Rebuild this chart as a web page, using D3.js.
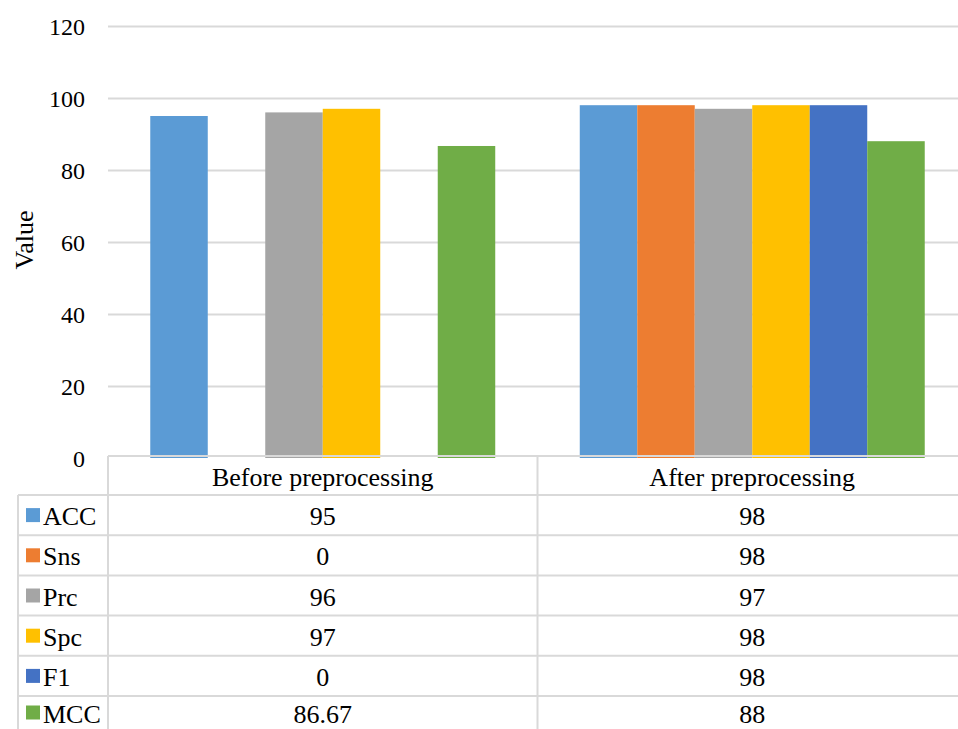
<!DOCTYPE html>
<html>
<head>
<meta charset="utf-8">
<script src="https://cdn.jsdelivr.net/npm/d3@7/dist/d3.min.js"></script>
<style>
  html, body { margin: 0; padding: 0; background: #fff; }
  svg { display: block; }
</style>
</head>
<body>
<svg id="chart" width="958" height="729"></svg>
<script>
// Metrics per preprocessing stage
const categories = ["Before preprocessing", "After preprocessing"];
const seriesNames = ["ACC", "Sns", "Prc", "Spc", "F1", "MCC"];
const seriesColors = ["#5b9bd5", "#ed7d31", "#a5a5a5", "#ffc000", "#4472c4", "#70ad47"];
const beforeValues = [95, 0, 96, 97, 0, 86.67];
const afterValues = [98, 98, 97, 98, 98, 88];
const tableLabels = [["95", "98"], ["0", "98"], ["96", "97"], ["97", "98"], ["0", "98"], ["86.67", "88"]];
const yTicks = [0, 20, 40, 60, 80, 100, 120];

const valuesByCategory = [beforeValues, afterValues];

const svg = d3.select("#chart");
const W = 958, H = 729;
const FONT = "Liberation Serif";
const plot = { left: 108, right: 967, top: 26, bottom: 458 };
const gridColor = "#d9d9d9";
const tickSize = 24;
const tableSize = 26;

const y = d3.scaleLinear().domain([0, 120]).range([plot.bottom, plot.top]);
const x0 = d3.scaleBand().domain(categories).range([plot.left, plot.right]);
const x1 = d3.scaleBand().domain(seriesNames).range([0, x0.bandwidth()]).paddingOuter(0.735);
const color = d3.scaleOrdinal().domain(seriesNames).range(seriesColors);

// Gridlines and value ticks
const yAxis = d3.axisLeft(y).tickValues(yTicks).tickSize(-(W - plot.left)).tickFormat(d3.format("d"));
const gAxis = svg.append("g").attr("transform", `translate(${plot.left},0)`).call(yAxis);
gAxis.attr("font-family", FONT).attr("font-size", tickSize);
gAxis.select(".domain").remove();
gAxis.selectAll(".tick line").attr("stroke", gridColor).attr("stroke-width", 2)
  .filter(d => d === 0).remove();
gAxis.selectAll(".tick text")
  .attr("x", -23).attr("dy", "0.35em")
  .attr("fill", "#000");

// Axis title
svg.append("text")
  .attr("transform", "translate(33,240) rotate(-90)")
  .attr("text-anchor", "middle")
  .attr("font-family", FONT).attr("font-size", 26)
  .text("Value");

// Bars
const groups = svg.append("g").selectAll("g")
  .data(categories)
  .join("g")
  .attr("transform", d => `translate(${x0(d)},0)`);

groups.selectAll("rect")
  .data((c, ci) => seriesNames.map((s, si) => ({ s, v: valuesByCategory[ci][si] })))
  .join("rect")
  .attr("x", d => x1(d.s))
  .attr("width", x1.bandwidth())
  .attr("y", d => y(d.v))
  .attr("height", d => y(0) - y(d.v))
  .attr("fill", d => color(d.s));

// Data table below the plot
const tableTop = 456;
const headerH = 39;
const rowH = 40.2;
const tableLeft = 18;
const table = svg.append("g").attr("font-family", FONT).attr("font-size", tableSize);
const line = (xa, ya, xb, yb) => table.append("line")
  .attr("x1", xa).attr("y1", ya).attr("x2", xb).attr("y2", yb)
  .attr("stroke", gridColor).attr("stroke-width", 2);

// horizontal rules
line(plot.left, tableTop, W, tableTop);
seriesNames.forEach((s, i) => {
  const yy = tableTop + headerH + i * rowH;
  line(tableLeft, yy, W, yy);
});
// vertical rules
const tableBottom = tableTop + headerH + seriesNames.length * rowH;
line(tableLeft, tableTop + headerH, tableLeft, tableBottom);
line(plot.left, tableTop, plot.left, tableBottom);
line(x0(categories[1]), tableTop, x0(categories[1]), tableBottom);

// header text
table.selectAll("text.hdr")
  .data(categories)
  .join("text")
  .attr("class", "hdr")
  .attr("x", d => x0(d) + x0.bandwidth() / 2)
  .attr("y", tableTop + headerH / 2 + 1)
  .attr("dy", "0.35em")
  .attr("text-anchor", "middle")
  .text(d => d);

// rows: legend key, series name and the two values (last row is shortened by the page edge)
seriesNames.forEach((s, i) => {
  const top = tableTop + headerH + i * rowH;
  const h = Math.min(rowH, H - top);
  const cy = top + h / 2;
  table.append("rect")
    .attr("x", 26).attr("y", cy - 7).attr("width", 14).attr("height", 14)
    .attr("fill", color(s));
  table.append("text")
    .attr("x", 43).attr("y", cy + 1).attr("dy", "0.35em")
    .text(s);
  categories.forEach((c, ci) => {
    table.append("text")
      .attr("x", x0(c) + x0.bandwidth() / 2)
      .attr("y", cy + 1).attr("dy", "0.35em")
      .attr("text-anchor", "middle")
      .text(tableLabels[i][ci]);
  });
});
</script>
</body>
</html>
